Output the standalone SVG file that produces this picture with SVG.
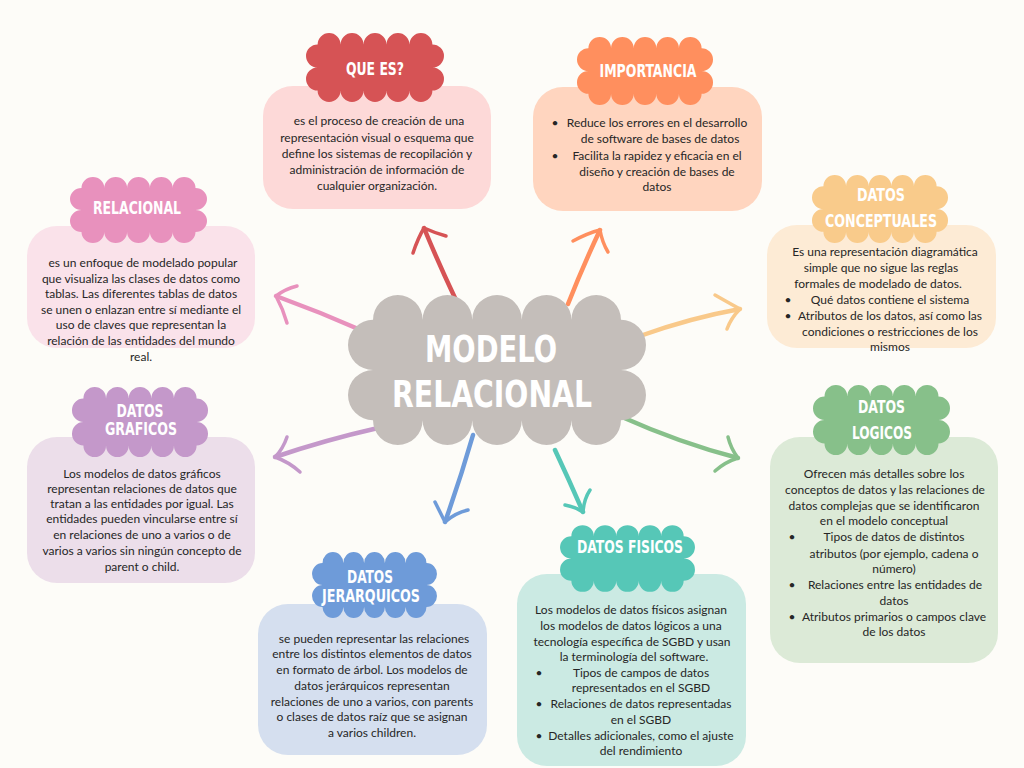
<svg xmlns="http://www.w3.org/2000/svg" xmlns:xlink="http://www.w3.org/1999/xlink" width="1024" height="768" viewBox="0 0 1024 768">
<style>
.body{font-family:Lato,"Open Sans","Liberation Sans",sans-serif;font-size:12px;fill:#262626;text-anchor:middle}
.title{font-family:"DejaVu Sans Condensed","DejaVu Sans",sans-serif;font-weight:bold;font-size:17px;fill:#ffffff;text-anchor:middle}
.big{font-family:"DejaVu Sans Condensed","DejaVu Sans",sans-serif;font-weight:bold;font-size:38px;fill:#ffffff;text-anchor:middle}
.shaft{fill:none;stroke-width:4.5;stroke-linecap:round;stroke-linejoin:round}
.head{fill:none;stroke-width:3.5;stroke-linecap:round;stroke-linejoin:round}
</style>
<defs>
<path id="cloud" d="M-57,-23 a11.4,11.4 0 0 1 22.8,0 a11.4,11.4 0 0 1 22.8,0 a11.4,11.4 0 0 1 22.8,0 a11.4,11.4 0 0 1 22.8,0 a11.4,11.4 0 0 1 22.8,0 a11.5,11.5 0 0 1 0,23 a11.5,11.5 0 0 1 0,23 a11.4,11.4 0 0 1 -22.8,0 a11.4,11.4 0 0 1 -22.8,0 a11.4,11.4 0 0 1 -22.8,0 a11.4,11.4 0 0 1 -22.8,0 a11.4,11.4 0 0 1 -22.8,0 a11.5,11.5 0 0 1 0,-23 a11.5,11.5 0 0 1 0,-23 Z"/>
</defs>
<rect width="1024" height="768" fill="#FDFCF8"/>

<g id="connectors">
  <g stroke="#D65355"><path class="shaft" d="M455,298 Q438,262 424,228"/><path class="head" d="M413,253 Q418,238 424,228 Q435,233 446,236"/></g>
  <g stroke="#FF8F5E"><path class="shaft" d="M568,304 Q583,266 600,230"/><path class="head" d="M573,241 Q588,233 600,230 Q602,242 608,252"/></g>
  <g stroke="#E891BD"><path class="shaft" d="M363,331 Q320,312 276,296"/><path class="head" d="M297,286 Q285,289 276,296 Q283,309 287,323"/></g>
  <g stroke="#F9C98A"><path class="shaft" d="M640,336 Q690,318 740,309"/><path class="head" d="M715,295 Q729,303 740,309 Q731,318 727,329"/></g>
  <g stroke="#C498CA"><path class="shaft" d="M378,428 Q325,440 275,457"/><path class="head" d="M287,437 Q283,449 275,457 Q289,462 300,472"/></g>
  <g stroke="#6E9BD9"><path class="shaft" d="M473,435 Q460,480 445,522"/><path class="head" d="M435,502 Q441,514 445,522 Q455,513 468,510"/></g>
  <g stroke="#56C7B7"><path class="shaft" d="M555,450 Q570,482 583,512"/><path class="head" d="M565,505 Q576,507 583,512 Q584,499 590,490"/></g>
  <g stroke="#87C08A"><path class="shaft" d="M622,417 Q680,443 738,458"/><path class="head" d="M728,437 Q731,449 738,458 Q725,462 715,471"/></g>
</g>

<g id="center">
  <use xlink:href="#cloud" href="#cloud" fill="#C4BEBA" transform="translate(497,370) scale(2.175,2.18)"/>
  <text class="big" x="491" y="362" textLength="132" lengthAdjust="spacingAndGlyphs">MODELO</text>
  <text class="big" x="492" y="407" textLength="200" lengthAdjust="spacingAndGlyphs">RELACIONAL</text>
</g>

<g id="que-es">
  <rect x="263" y="86" width="228" height="123" rx="30" fill="#FDD9D8"/>
  <use xlink:href="#cloud" href="#cloud" fill="#D65355" transform="translate(375,67.5) scale(1.007,1.0)"/>
  <text class="title" x="375" y="75" textLength="58" lengthAdjust="spacingAndGlyphs">QUE ES?</text>
  <text class="body" x="379" y="125">es el proceso de creación de una</text>
  <text class="body" x="377" y="142">representación visual o esquema que</text>
  <text class="body" x="377" y="158">define los sistemas de recopilación y</text>
  <text class="body" x="377" y="174">administración de información de</text>
  <text class="body" x="377" y="190">cualquier organización.</text>
</g>

<g id="importancia">
  <rect x="533" y="87" width="229" height="124" rx="30" fill="#FFD5BF"/>
  <use xlink:href="#cloud" href="#cloud" fill="#FF8F5E" transform="translate(645,71) scale(0.993,0.99)"/>
  <text class="title" x="648" y="77" textLength="97" lengthAdjust="spacingAndGlyphs">IMPORTANCIA</text>
  <text class="body" x="555" y="127">•</text>
  <text class="body" x="657" y="127">Reduce los errores en el desarrollo</text>
  <text class="body" x="660" y="143">de software de bases de datos</text>
  <text class="body" x="555" y="160">•</text>
  <text class="body" x="657" y="160">Facilita la rapidez y eficacia en el</text>
  <text class="body" x="657" y="176">diseño y creación de bases de</text>
  <text class="body" x="657" y="191">datos</text>
</g>

<g id="relacional">
  <rect x="27" y="226" width="228" height="122" rx="30" fill="#FAE2EA"/>
  <use xlink:href="#cloud" href="#cloud" fill="#E891BD" transform="translate(138.5,210) scale(1.0,0.96)"/>
  <text class="title" x="137" y="214" textLength="88" lengthAdjust="spacingAndGlyphs">RELACIONAL</text>
  <text class="body" x="143" y="267">es un enfoque de modelado popular</text>
  <text class="body" x="141" y="282.6">que visualiza las clases de datos como</text>
  <text class="body" x="141" y="298.2">tablas. Las diferentes tablas de datos</text>
  <text class="body" x="141" y="313.8">se unen o enlazan entre sí mediante el</text>
  <text class="body" x="141" y="329.4">uso de claves que representan la</text>
  <text class="body" x="141" y="345">relación de las entidades del mundo</text>
  <text class="body" x="141" y="360.6">real.</text>
</g>

<g id="datos-conceptuales">
  <rect x="767" y="225" width="229" height="123" rx="30" fill="#FDEBD5"/>
  <use xlink:href="#cloud" href="#cloud" fill="#F9CB8B" transform="translate(880,209) scale(0.993,0.99)"/>
  <text class="title" x="881" y="201" textLength="48" lengthAdjust="spacingAndGlyphs">DATOS</text>
  <text class="title" x="881" y="227" textLength="112" lengthAdjust="spacingAndGlyphs">CONCEPTUALES</text>
  <text class="body" x="885" y="256">Es una representación diagramática</text>
  <text class="body" x="881" y="271.9">simple que no sigue las reglas</text>
  <text class="body" x="878" y="287.8">formales de modelado de datos.</text>
  <text class="body" x="788" y="303.7">•</text>
  <text class="body" x="890" y="303.7">Qué datos contiene el sistema</text>
  <text class="body" x="788" y="319.6">•</text>
  <text class="body" x="890" y="319.6">Atributos de los datos, así como las</text>
  <text class="body" x="890" y="335.5">condiciones o restricciones de los</text>
  <text class="body" x="890" y="351.4">mismos</text>
</g>

<g id="datos-logicos">
  <rect x="770" y="437" width="228" height="226" rx="30" fill="#DCEAD7"/>
  <use xlink:href="#cloud" href="#cloud" fill="#87C08A" transform="translate(881.5,420) scale(1.0,1.02)"/>
  <text class="title" x="881.5" y="413" textLength="47" lengthAdjust="spacingAndGlyphs">DATOS</text>
  <text class="title" x="882" y="439" textLength="60" lengthAdjust="spacingAndGlyphs">LOGICOS</text>
  <text class="body" x="884" y="478">Ofrecen más detalles sobre los</text>
  <text class="body" x="885" y="494">conceptos de datos y las relaciones de</text>
  <text class="body" x="884" y="510">datos complejas que se identificaron</text>
  <text class="body" x="884" y="525">en el modelo conceptual</text>
  <text class="body" x="792" y="541">•</text>
  <text class="body" x="894" y="541">Tipos de datos de distintos</text>
  <text class="body" x="894" y="558">atributos (por ejemplo, cadena o</text>
  <text class="body" x="894" y="573">número)</text>
  <text class="body" x="792" y="589">•</text>
  <text class="body" x="895" y="589">Relaciones entre las entidades de</text>
  <text class="body" x="894" y="605">datos</text>
  <text class="body" x="792" y="621">•</text>
  <text class="body" x="894" y="621">Atributos primarios o campos clave</text>
  <text class="body" x="894" y="636">de los datos</text>
</g>

<g id="datos-fisicos">
  <rect x="517" y="574" width="229" height="192" rx="30" fill="#CBEAE3"/>
  <use xlink:href="#cloud" href="#cloud" fill="#56C7B7" transform="translate(627.5,558.5) scale(0.985,0.97)"/>
  <text class="title" x="630" y="553" textLength="106" lengthAdjust="spacingAndGlyphs">DATOS FISICOS</text>
  <text class="body" x="631" y="614">Los modelos de datos físicos asignan</text>
  <text class="body" x="631" y="630">los modelos de datos lógicos a una</text>
  <text class="body" x="632" y="646">tecnología específica de SGBD y usan</text>
  <text class="body" x="634" y="661">la terminología del software.</text>
  <text class="body" x="539" y="677">•</text>
  <text class="body" x="641" y="677">Tipos de campos de datos</text>
  <text class="body" x="641" y="692">representados en el SGBD</text>
  <text class="body" x="539" y="708">•</text>
  <text class="body" x="641" y="708">Relaciones de datos representadas</text>
  <text class="body" x="641" y="724">en el SGBD</text>
  <text class="body" x="539" y="740">•</text>
  <text class="body" x="641" y="740">Detalles adicionales, como el ajuste</text>
  <text class="body" x="641" y="755">del rendimiento</text>
</g>

<g id="datos-jerarquicos">
  <rect x="258" y="604" width="229" height="151" rx="30" fill="#D5DFEF"/>
  <use xlink:href="#cloud" href="#cloud" fill="#6E9BD9" transform="translate(374.5,585) scale(0.912,0.96)"/>
  <text class="title" x="370" y="583" textLength="46" lengthAdjust="spacingAndGlyphs">DATOS</text>
  <text class="title" x="371" y="602" textLength="98" lengthAdjust="spacingAndGlyphs">JERARQUICOS</text>
  <text class="body" x="374" y="643">se pueden representar las relaciones</text>
  <text class="body" x="372" y="658">entre los distintos elementos de datos</text>
  <text class="body" x="372" y="674">en formato de árbol. Los modelos de</text>
  <text class="body" x="372" y="690">datos jerárquicos representan</text>
  <text class="body" x="372" y="706">relaciones de uno a varios, con parents</text>
  <text class="body" x="372" y="721">o clases de datos raíz que se asignan</text>
  <text class="body" x="372" y="737">a varios children.</text>
</g>

<g id="datos-graficos">
  <rect x="27" y="437" width="228" height="146" rx="30" fill="#ECDEEA"/>
  <use xlink:href="#cloud" href="#cloud" fill="#C498CA" transform="translate(140,422) scale(0.993,1.02)"/>
  <text class="title" x="140" y="416.5" textLength="47" lengthAdjust="spacingAndGlyphs">DATOS</text>
  <text class="title" x="141" y="435" textLength="72" lengthAdjust="spacingAndGlyphs">GRAFICOS</text>
  <text class="body" x="142" y="478">Los modelos de datos gráficos</text>
  <text class="body" x="142" y="493">representan relaciones de datos que</text>
  <text class="body" x="142" y="508">tratan a las entidades por igual. Las</text>
  <text class="body" x="142" y="523">entidades pueden vincularse entre sí</text>
  <text class="body" x="142" y="539">en relaciones de uno a varios o de</text>
  <text class="body" x="142" y="555">varios a varios sin ningún concepto de</text>
  <text class="body" x="142" y="571">parent o child.</text>
</g>
</svg>
